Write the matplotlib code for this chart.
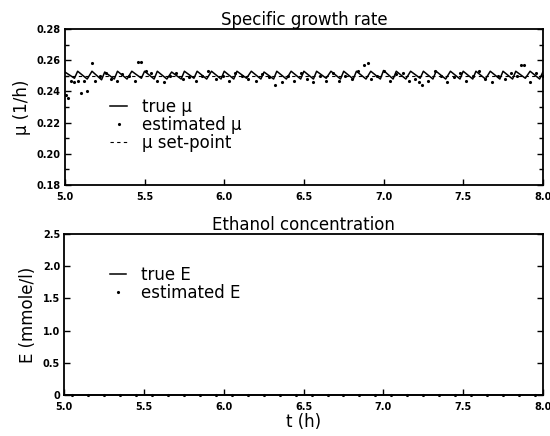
import matplotlib
matplotlib.use("Agg")
import matplotlib.pyplot as plt
from matplotlib.ticker import MultipleLocator

# ---- data ----
true_mu_t = [5.00, 5.06, 5.08, 5.14, 5.17, 5.23, 5.25, 5.31, 5.33, 5.39, 5.42, 5.48,
             5.50, 5.56, 5.58, 5.64, 5.67, 5.73, 5.75, 5.81, 5.83, 5.89, 5.92, 5.98,
             6.00, 6.06, 6.08, 6.14, 6.17, 6.23, 6.25, 6.31, 6.33, 6.39, 6.42, 6.48,
             6.50, 6.56, 6.58, 6.64, 6.67, 6.73, 6.75, 6.81, 6.83, 6.89, 6.92, 6.98,
             7.00, 7.06, 7.08, 7.14, 7.17, 7.23, 7.25, 7.31, 7.33, 7.39, 7.42, 7.48,
             7.50, 7.56, 7.58, 7.64, 7.67, 7.73, 7.75, 7.81, 7.83, 7.89, 7.92, 7.98,
             8.00]
true_mu = [0.2525, 0.2485, 0.2530, 0.2480, 0.2530, 0.2475, 0.2525, 0.2480, 0.2530, 0.2480, 0.2530, 0.2485,
           0.2530, 0.2480, 0.2530, 0.2480, 0.2525, 0.2480, 0.2530, 0.2485, 0.2530, 0.2480, 0.2530, 0.2480,
           0.2530, 0.2480, 0.2530, 0.2485, 0.2530, 0.2480, 0.2525, 0.2480, 0.2530, 0.2480, 0.2530, 0.2480,
           0.2530, 0.2480, 0.2530, 0.2485, 0.2530, 0.2480, 0.2530, 0.2480, 0.2530, 0.2480, 0.2530, 0.2480,
           0.2535, 0.2480, 0.2530, 0.2480, 0.2530, 0.2485, 0.2530, 0.2480, 0.2530, 0.2480, 0.2530, 0.2480,
           0.2530, 0.2480, 0.2530, 0.2480, 0.2530, 0.2480, 0.2530, 0.2480, 0.2530, 0.2485, 0.2530, 0.2480,
           0.2525]

est_mu_t = [5.01, 5.02, 5.04, 5.06, 5.08, 5.10, 5.12, 5.14, 5.17, 5.19, 5.22, 5.26, 5.29, 5.33,
            5.36, 5.40, 5.44, 5.46, 5.48, 5.51, 5.54, 5.58, 5.62, 5.66, 5.70, 5.74, 5.78, 5.82,
            5.86, 5.90, 5.95, 5.99, 6.03, 6.07, 6.11, 6.15, 6.20, 6.24, 6.28, 6.32, 6.36, 6.40,
            6.44, 6.48, 6.52, 6.56, 6.60, 6.64, 6.68, 6.72, 6.76, 6.80, 6.84, 6.88, 6.90, 6.92,
            6.96, 7.00, 7.04, 7.08, 7.12, 7.16, 7.20, 7.22, 7.24, 7.28, 7.32, 7.36, 7.40, 7.44,
            7.48, 7.52, 7.56, 7.60, 7.64, 7.68, 7.72, 7.76, 7.80, 7.84, 7.86, 7.88, 7.92, 7.96,
            8.00]
est_mu = [0.2380, 0.2360, 0.2470, 0.2460, 0.2470, 0.2390, 0.2465, 0.2400, 0.2585, 0.2470, 0.2500, 0.2520,
          0.2480, 0.2470, 0.2510, 0.2500, 0.2470, 0.2590, 0.2590, 0.2530, 0.2520, 0.2470, 0.2460, 0.2500,
          0.2520, 0.2480, 0.2490, 0.2470, 0.2500, 0.2530, 0.2480, 0.2500, 0.2470, 0.2520, 0.2500, 0.2480,
          0.2470, 0.2510, 0.2490, 0.2440, 0.2460, 0.2500, 0.2470, 0.2520, 0.2480, 0.2460, 0.2500, 0.2470,
          0.2520, 0.2470, 0.2500, 0.2480, 0.2530, 0.2570, 0.2580, 0.2480, 0.2500, 0.2530, 0.2470, 0.2510,
          0.2520, 0.2470, 0.2480, 0.2460, 0.2440, 0.2470, 0.2530, 0.2500, 0.2460, 0.2490, 0.2520, 0.2470,
          0.2500, 0.2530, 0.2480, 0.2460, 0.2500, 0.2480, 0.2520, 0.2500, 0.2570, 0.2570, 0.2460, 0.2520,
          0.2500]

setpoint_t = [5.0, 8.0]
setpoint_mu = [0.250, 0.250]

E_t = [5.0, 5.5, 6.0, 6.5, 7.0, 7.5, 8.0]
true_E = [0.0, 0.0, 0.0, 0.0, 0.0, 0.0, 0.0]
est_E_t = [5.05, 5.15, 5.25, 5.35, 5.45, 5.55, 5.65, 5.75, 5.85, 5.95, 6.05, 6.15, 6.25, 6.35,
           6.45, 6.55, 6.65, 6.75, 6.85, 6.95, 7.05, 7.15, 7.25, 7.35, 7.45, 7.55, 7.65, 7.75,
           7.85, 7.95]
est_E = [0.0] * len(est_E_t)

xticks = [5.0, 5.5, 6.0, 6.5, 7.0, 7.5, 8.0]
xticklabels = ["5.0", "5.5", "6.0", "6.5", "7.0", "7.5", "8.0"]
mu_ticks = [0.18, 0.20, 0.22, 0.24, 0.26, 0.28]
mu_ticklabels = ["0.18", "0.20", "0.22", "0.24", "0.26", "0.28"]
E_ticks = [0, 0.5, 1.0, 1.5, 2.0, 2.5]
E_ticklabels = ["0", "0.5", "1.0", "1.5", "2.0", "2.5"]

plt.rcParams['font.family'] = ['DejaVu Sans']

fig = plt.figure(figsize=(5.5, 4.36), dpi=100)
ax1 = fig.add_axes([0.118, 0.576, 0.869, 0.357])
ax2 = fig.add_axes([0.117, 0.094, 0.870, 0.369])

for ax in (ax1, ax2):
    for s in ax.spines.values():
        s.set_linewidth(1.3)
    ax.tick_params(direction='in', which='both', right=True, top=False, length=4,
                   width=1.0, labelsize=7)
    ax.tick_params(axis='x', pad=5)
    ax.tick_params(axis='y', pad=3)
    ax.tick_params(which='minor', length=3)
    ax.set_xlim(5.0, 8.0)
    ax.set_xticks(xticks)
    ax.set_xticklabels(xticklabels, fontweight='bold')

# top panel
ax1.plot(true_mu_t, true_mu, color='black', lw=1.1, label='true μ')
ax1.plot(est_mu_t, est_mu, ls='none', marker='.', ms=2.5, color='black', label='estimated μ')
ax1.plot(setpoint_t, setpoint_mu, color='black', lw=0.8, ls=(0, (3, 3)), label='μ set-point')
ax1.set_ylim(0.18, 0.28)
ax1.set_yticks(mu_ticks)
ax1.set_yticklabels(mu_ticklabels, fontweight='bold')
ax1.yaxis.set_minor_locator(MultipleLocator(0.01))
ax1.set_ylabel('μ (1/h)', fontsize=12, labelpad=4)
ax1.set_title('Specific growth rate', fontsize=12, pad=3)
ax1.legend(loc='upper left', bbox_to_anchor=(0.095, 0.56), frameon=False, fontsize=12,
           handlelength=1.0, handletextpad=0.9, labelspacing=0.0, borderaxespad=0,
           borderpad=0)

# bottom panel
ax2.plot(E_t, true_E, color='black', lw=1.1, label='true E', clip_on=False, zorder=3)
ax2.plot(est_E_t, est_E, ls='none', marker='.', ms=2.5, color='black', label='estimated E',
         clip_on=False, zorder=3)
ax2.set_ylim(0, 2.5)
ax2.set_yticks(E_ticks)
ax2.set_yticklabels(E_ticklabels, fontweight='bold')
ax2.set_ylabel('E (mmole/l)', fontsize=12, labelpad=4)
ax2.set_xlabel('t (h)', fontsize=12, labelpad=1)
ax2.set_title('Ethanol concentration', fontsize=12, pad=3)
ax2.legend(loc='upper left', bbox_to_anchor=(0.095, 0.80), frameon=False, fontsize=12,
           handlelength=1.0, handletextpad=0.9, labelspacing=0.0, borderaxespad=0,
           borderpad=0)

fig.savefig('out.png', dpi=100)
